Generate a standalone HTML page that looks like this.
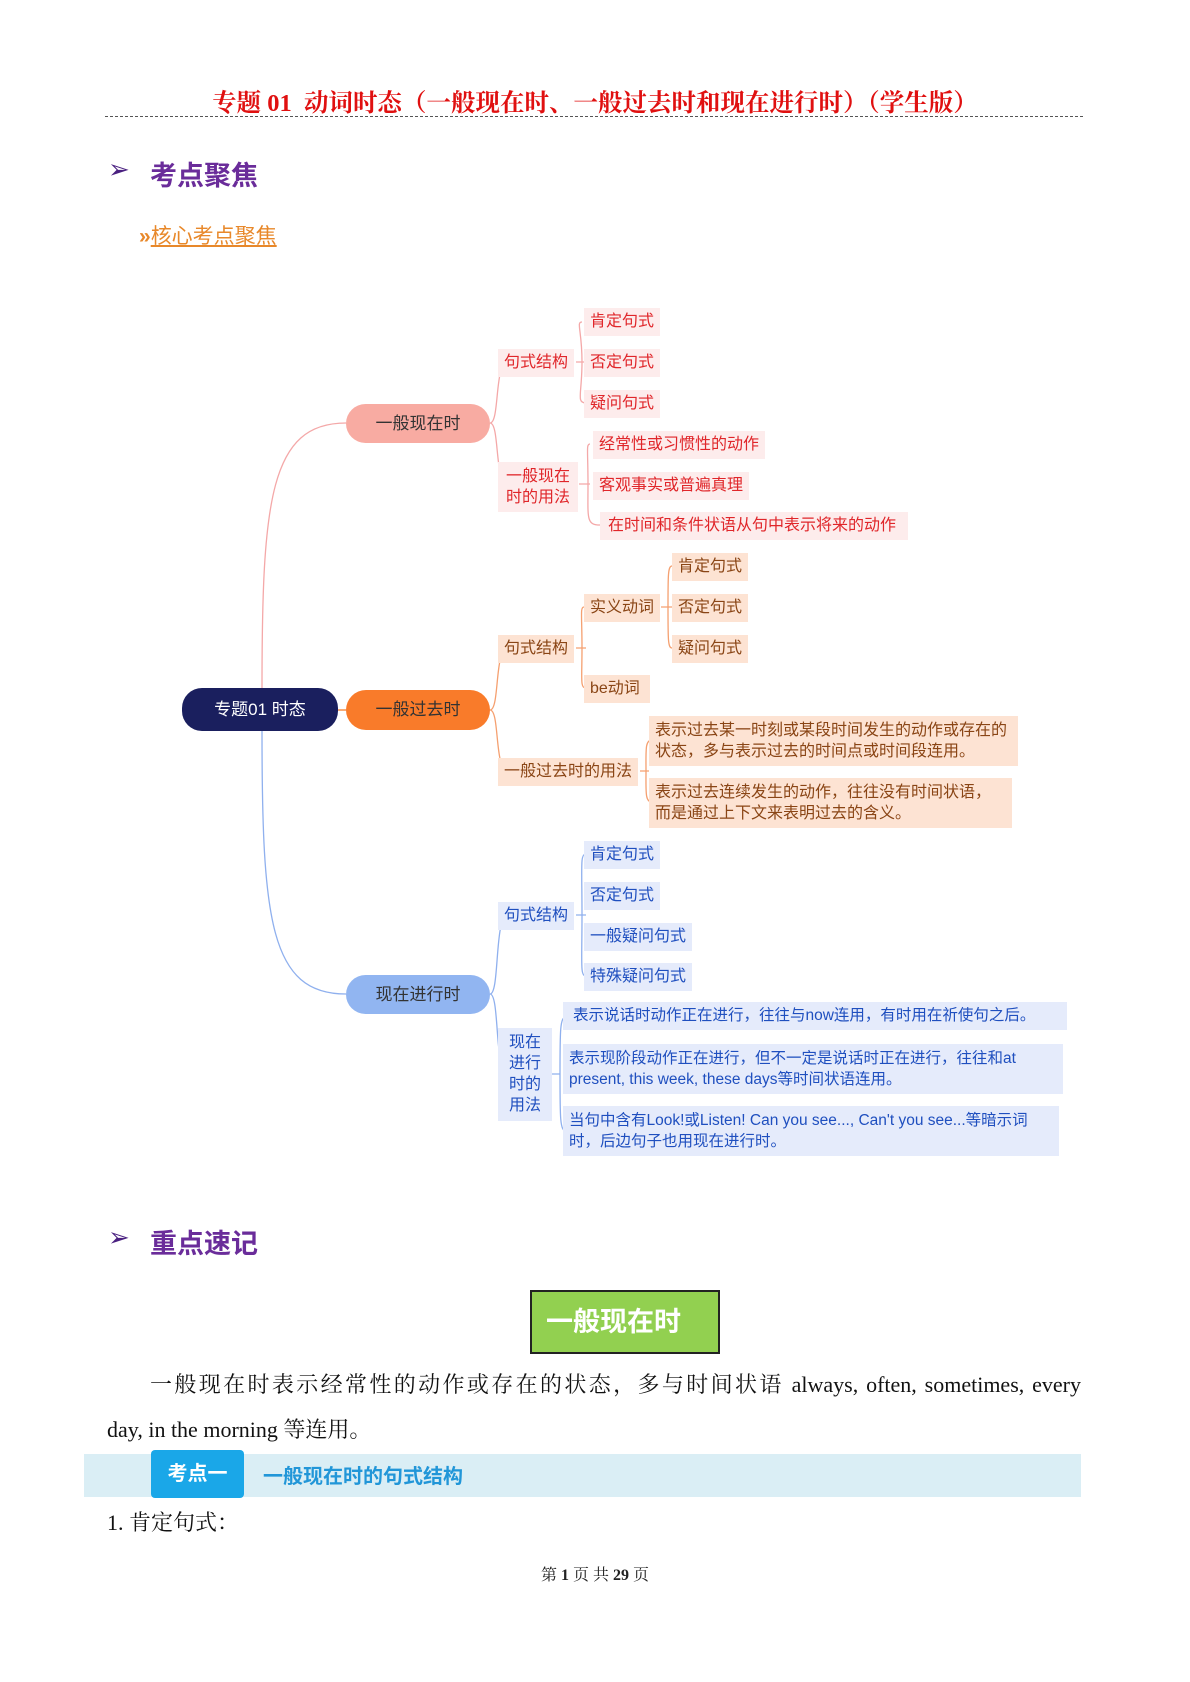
<!DOCTYPE html>
<html><head><meta charset="utf-8"><style>
body{margin:0;background:#fff;}
#pg{position:relative;width:1190px;height:1682px;overflow:hidden;background:#fff;font-family:"Liberation Sans","Noto Sans CJK SC",sans-serif;}
.a{position:absolute;box-sizing:border-box;}
.n{position:absolute;box-sizing:border-box;font-size:16px;line-height:20px;padding:4px 6px;white-space:nowrap;}
.r{background:#fdecec;color:#e0262a;}
.o{background:#fde3d3;color:#8a4515;}
.b{background:#e5ebfb;color:#1f4fbf;}
.l1{position:absolute;box-sizing:border-box;border-radius:20px;text-align:center;font-size:17px;color:#333;}
.serif{font-family:"Liberation Serif","Noto Serif CJK SC",serif;}
</style></head><body><div id="pg">
<div class="a serif" style="left:0;width:1190px;top:84px;text-align:center;font-size:24.5px;font-weight:bold;color:#e01010;">专题 01&nbsp; 动词时态（一般现在时、一般过去时和现在进行时）（学生版）</div>
<div class="a" style="left:105px;top:116px;width:978px;border-top:1.5px dashed #555;"></div>
<div class="a" style="left:108px;top:154px;font-size:26px;color:#4a2080;">➢</div>
<div class="a" style="left:150px;top:154px;font-size:27px;font-weight:bold;color:#6a2c9a;">考点聚焦</div>
<div class="a" style="left:139px;top:220px;font-size:21px;font-weight:bold;color:#e8882a;">»<span style="text-decoration:underline;font-weight:normal;">核心考点聚焦</span></div>

<svg class="a" style="left:0;top:0" width="1190" height="1682" fill="none" stroke-width="1.3">
<path d="M262 688 C262 500 270 423 346 423" stroke="#f4a8a8"/>
<path d="M262 731 C262 920 270 994 346 994" stroke="#8fb0ee"/>
<path d="M338 710 H346" stroke="#f57e2c"/>
<g stroke="#f4a8a8"><path d="M490 423 C500 423 494 362 508 362 M490 423 C500 423 494 484 508 484"/>
<path d="M576 362 H586 M582 322 C576 322 582 330 582 362 C582 394 576 403 586 403"/>
<path d="M579 484 H590 M590 444 C586 444 588 450 588 484 C588 518 586 525 600 525"/></g>
<g stroke="#f5a070"><path d="M490 710 C500 710 494 648 508 648 M490 710 C500 710 494 771 508 771"/>
<path d="M576 648 H586 M584 607 C580 607 582 615 582 648 C582 680 580 688 586 688"/>
<path d="M661 607 H672 M672 566 C668 566 668 575 668 607 C668 640 668 648 672 648"/>
<path d="M640 771 H649 M652 740 C645 740 646 750 646 771 C646 792 645 802 652 802"/></g>
<g stroke="#8fb0ee"><path d="M490 994 C500 994 494 915 508 915 M490 994 C500 994 494 1074 508 1074"/>
<path d="M576 915 H586 M586 854 C580 854 582 865 582 915 C582 965 580 976 586 976"/>
<path d="M552 1074 H560 M566 1017 C560 1017 560 1030 560 1074 C560 1118 560 1131 566 1131"/></g>
</svg>

<div class="l1" style="left:182px;top:688px;width:156px;height:43px;line-height:43px;background:#1a1f5e;color:#fff;">专题01 时态</div>
<div class="l1" style="left:346px;top:404px;width:144px;height:39px;line-height:39px;background:#f8aba2;">一般现在时</div>
<div class="l1" style="left:346px;top:690px;width:144px;height:40px;line-height:40px;background:#f97b2a;">一般过去时</div>
<div class="l1" style="left:346px;top:975px;width:144px;height:39px;line-height:39px;background:#91b5f1;">现在进行时</div>

<div class="n r" style="left:498px;top:349px;">句式结构</div>
<div class="n r" style="left:498px;top:462px;white-space:normal;width:80px;text-align:center;line-height:21px;">一般现在时的用法</div>
<div class="n r" style="left:584px;top:308px;">肯定句式</div>
<div class="n r" style="left:584px;top:349px;">否定句式</div>
<div class="n r" style="left:584px;top:390px;">疑问句式</div>
<div class="n r" style="left:593px;top:431px;">经常性或习惯性的动作</div>
<div class="n r" style="left:593px;top:472px;">客观事实或普遍真理</div>
<div class="n r" style="left:600px;top:512px;padding:4px 12px 4px 8px;">在时间和条件状语从句中表示将来的动作</div>

<div class="n o" style="left:498px;top:635px;">句式结构</div>
<div class="n o" style="left:584px;top:594px;">实义动词</div>
<div class="n o" style="left:584px;top:675px;padding-right:10px;">be动词</div>
<div class="n o" style="left:672px;top:553px;">肯定句式</div>
<div class="n o" style="left:672px;top:594px;">否定句式</div>
<div class="n o" style="left:672px;top:635px;">疑问句式</div>
<div class="n o" style="left:498px;top:758px;">一般过去时的用法</div>
<div class="n o" style="left:649px;top:716px;width:369px;white-space:normal;line-height:21px;">表示过去某一时刻或某段时间发生的动作或存在的状态，多与表示过去的时间点或时间段连用。</div>
<div class="n o" style="left:649px;top:778px;width:363px;white-space:normal;line-height:21px;">表示过去连续发生的动作，往往没有时间状语，而是通过上下文来表明过去的含义。</div>

<div class="n b" style="left:498px;top:902px;">句式结构</div>
<div class="n b" style="left:584px;top:841px;">肯定句式</div>
<div class="n b" style="left:584px;top:882px;">否定句式</div>
<div class="n b" style="left:584px;top:923px;">一般疑问句式</div>
<div class="n b" style="left:584px;top:963px;">特殊疑问句式</div>
<div class="n b" style="left:498px;top:1028px;width:54px;height:93px;white-space:normal;text-align:center;line-height:21px;padding:4px 8px;">现在进行时的用法</div>
<div class="n b" style="left:563px;top:1002px;width:504px;padding-left:10px;font-size:15.5px;">表示说话时动作正在进行，往往与now连用，有时用在祈使句之后。</div>
<div class="n b" style="left:563px;top:1044px;width:500px;white-space:normal;line-height:21px;font-size:15.5px;">表示现阶段动作正在进行，但不一定是说话时正在进行，往往和at present, this week, these days等时间状语连用。</div>
<div class="n b" style="left:563px;top:1106px;width:496px;white-space:normal;line-height:21px;font-size:15.5px;">当句中含有Look!或Listen! Can you see..., Can't you see...等暗示词时，后边句子也用现在进行时。</div>

<div class="a" style="left:108px;top:1222px;font-size:26px;color:#4a2080;">➢</div>
<div class="a" style="left:150px;top:1222px;font-size:27px;font-weight:bold;color:#6a2c9a;">重点速记</div>
<div class="a" style="left:530px;top:1290px;width:190px;height:64px;background:#92d050;border:2px solid #222;color:#fff;font-size:27px;font-weight:bold;line-height:60px;padding-left:14px;">一般现在时</div>
<div class="a serif" style="left:150px;top:1370px;width:931px;font-size:22px;line-height:30px;text-align:justify;text-align-last:justify;color:#111;white-space:nowrap;">一般现在时表示经常性的动作或存在的状态，多与时间状语 always, often, sometimes, every</div>
<div class="a serif" style="left:107px;top:1415px;font-size:22px;line-height:30px;color:#111;">day, in the morning 等连用。</div>
<div class="a" style="left:84px;top:1454px;width:997px;height:43px;background:#daeef5;"></div>
<div class="a" style="left:151px;top:1450px;width:93px;height:48px;background:#1aa7e8;border-radius:4px;color:#fff;font-size:20px;font-weight:bold;line-height:48px;text-align:center;">考点一</div>
<div class="a" style="left:263px;top:1460px;font-size:20px;font-weight:bold;color:#2196d8;">一般现在时的句式结构</div>
<div class="a serif" style="left:107px;top:1506px;font-size:22px;color:#111;">1. 肯定句式：</div>
<div class="a serif" style="left:0;width:1190px;top:1562px;text-align:center;font-size:16px;color:#222;">第 <b>1</b> 页 共 <b>29</b> 页</div>
</div></body></html>
